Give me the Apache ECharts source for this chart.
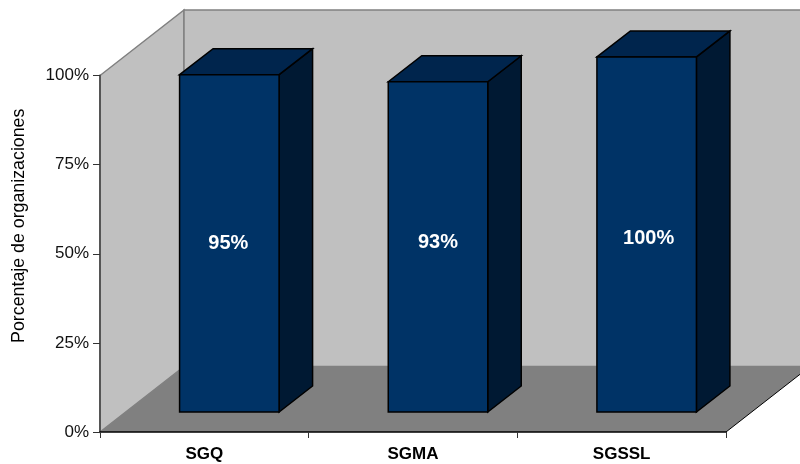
<!DOCTYPE html>
<html>
<head>
<meta charset="utf-8">
<style>html,body{margin:0;padding:0;background:#fff}#chart{width:800px;height:464px}</style>
<script src="https://cdn.jsdelivr.net/npm/echarts@6/dist/echarts.min.js"></script>
</head>
<body>
<div id="chart"></div>
<script>
// Share of organizations per management system
const categories = ['SGQ', 'SGMA', 'SGSSL'];
const values = [95, 93, 100];
const valueLabels = ['95%', '93%', '100%'];
const yTicks = [0, 25, 50, 75, 100];
const yTitle = 'Porcentaje de organizaciones';

const FONT = '"Liberation Sans", Arial, sans-serif';
// Oblique projection of the chart box
const DEPTH_X = 84, DEPTH_Y = 65.5;
const BAR_W = 99.5, BAR_DX = 33.5, BAR_DY = 26;
const BAR_SHIFT_X = 25, BAR_SHIFT_Y = 20, BAR_SCALE = 0.996;
// Nudge of each value label from its column's centre
const LABEL_NUDGE_X = [-1, 0, 2];
const LABEL_NUDGE_Y = [0, -4, 4];

const chart = echarts.init(document.getElementById('chart'), null, {renderer: 'canvas'});

function poly(points, fill, stroke, lineWidth) {
  return {type: 'polygon', shape: {points}, style: {fill, stroke, lineWidth, lineJoin: 'miter'}};
}

// Walls and floor behind the bars
function renderBox(params, api) {
  const o = api.coord([0, 0]);
  const t = api.coord([0, 100]);
  const band = api.size([1, 0])[0];
  const l = o[0] - band / 2, b = o[1], top = t[1];
  const r = l + band * categories.length;
  const wallR = r + DEPTH_X;
  return {type: 'group', children: [
    poly([[l, b], [l, top], [l + DEPTH_X, top - DEPTH_Y], [l + DEPTH_X, b - DEPTH_Y]], '#c0c0c0', '#808080', 1.5),
    poly([[l + DEPTH_X, top - DEPTH_Y], [wallR, top - DEPTH_Y], [wallR, b - DEPTH_Y], [l + DEPTH_X, b - DEPTH_Y]], '#c0c0c0', '#808080', 1.5),
    poly([[l, b], [r, b], [wallR, b - DEPTH_Y], [l + DEPTH_X, b - DEPTH_Y]], '#808080', null, 0),
    {type: 'line', shape: {x1: r, y1: b, x2: wallR, y2: b - DEPTH_Y}, style: {stroke: '#000', lineWidth: 1}}
  ]};
}

// One extruded column: side, top and front faces
function renderBar(params, api) {
  const i = api.value(0), v = api.value(1);
  const base = api.coord([i, 0]);
  const peak = api.coord([i, v]);
  const x0 = base[0] + BAR_SHIFT_X - BAR_W / 2, x1 = x0 + BAR_W;
  const yB = base[1] - BAR_SHIFT_Y;
  const yT = yB - (base[1] - peak[1]) * BAR_SCALE;
  return {type: 'group', children: [
    poly([[x1, yT], [x1 + BAR_DX, yT - BAR_DY], [x1 + BAR_DX, yB - BAR_DY], [x1, yB]], '#001933', '#000', 1.5),
    poly([[x0, yT], [x0 + BAR_DX, yT - BAR_DY], [x1 + BAR_DX, yT - BAR_DY], [x1, yT]], '#00254d', '#000', 1.5),
    poly([[x0, yT], [x1, yT], [x1, yB], [x0, yB]], '#003366', '#000', 1.5),
    {type: 'text', style: {
      x: (x0 + x1) / 2 + LABEL_NUDGE_X[i], y: (yT + yB) / 2 + LABEL_NUDGE_Y[i],
      text: valueLabels[i], fill: '#fff',
      font: 'bold 20px ' + FONT, align: 'center', verticalAlign: 'middle'
    }}
  ]};
}

chart.setOption({
  animation: false,
  backgroundColor: '#fff',
  grid: {left: 100, right: 74, top: 75.5, bottom: 32},
  xAxis: {
    type: 'category', data: categories, z: 5,
    axisLine: {lineStyle: {color: '#000', width: 1.5}},
    axisTick: {show: true, length: 6, alignWithLabel: false, lineStyle: {color: '#333', width: 1}},
    axisLabel: {color: '#000', fontFamily: FONT, fontWeight: 'bold', fontSize: 17, margin: 14}
  },
  yAxis: {
    type: 'value', min: 0, max: 100, interval: 25, z: 5,
    name: yTitle, nameLocation: 'middle', nameGap: 72, nameRotate: 90,
    nameTextStyle: {color: '#000', fontFamily: FONT, fontSize: 17.8, padding: [0, 0, 0, 56]},
    axisLine: {show: true, lineStyle: {color: '#555', width: 2}},
    axisTick: {show: true, length: 7, lineStyle: {color: '#333', width: 1}},
    splitLine: {show: false},
    axisLabel: {
      color: '#111', fontFamily: FONT, fontSize: 17, margin: 11,
      formatter: v => yTicks.includes(v) ? v + '%' : ''
    }
  },
  series: [
    {type: 'custom', coordinateSystem: 'cartesian2d', clip: false, renderItem: renderBox, data: [[0, 0]], z: 1, silent: true},
    {type: 'custom', coordinateSystem: 'cartesian2d', clip: false, renderItem: renderBar,
     data: values.map((v, i) => [i, v]), encode: {x: 0, y: 1}, z: 2, silent: true}
  ]
});
</script>
</body>
</html>
